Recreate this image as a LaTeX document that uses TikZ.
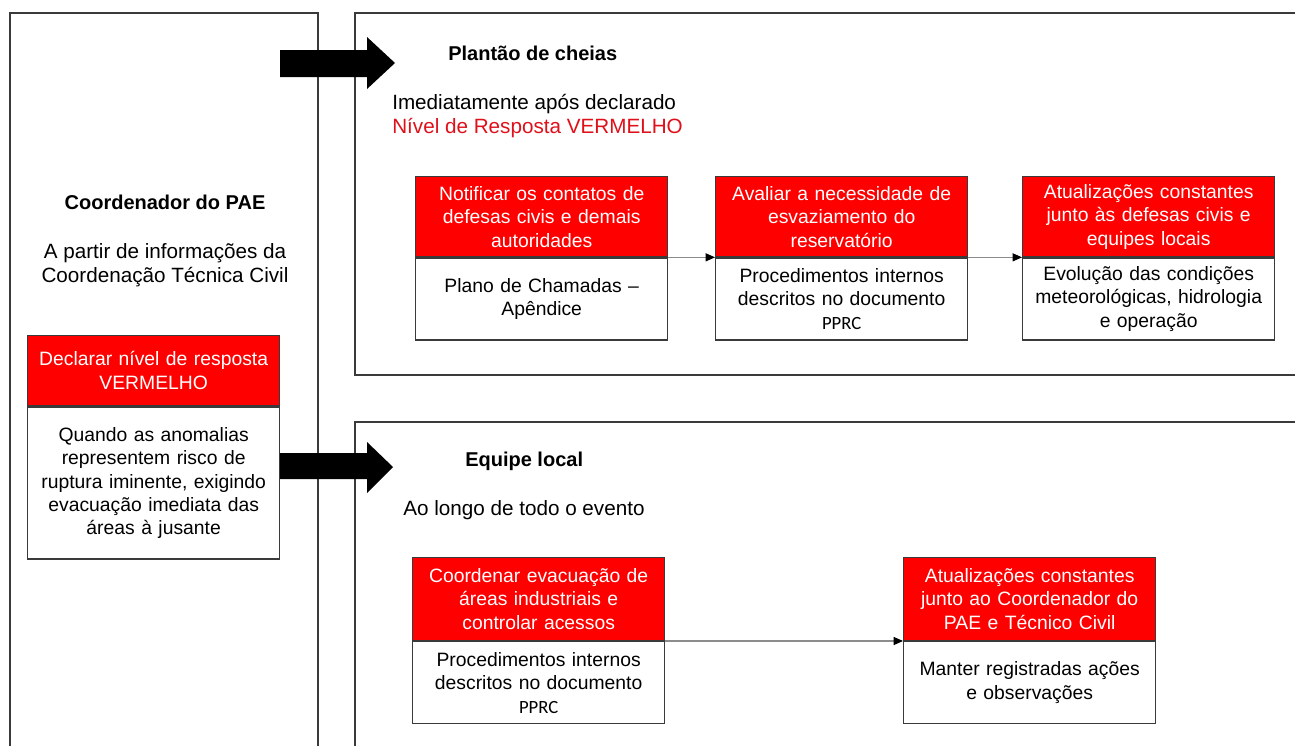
\documentclass[tikz,border=0pt]{standalone}
\usepackage{fontspec}
\setmainfont{Liberation Sans}
\newfontfamily\pprcfont{Carlito}
\usetikzlibrary{arrows.meta}
\definecolor{linec}{HTML}{3A3A3A}
\definecolor{hdrred}{HTML}{FF0000}
\definecolor{txtred}{HTML}{E0101A}
\definecolor{conncol}{HTML}{8C8C8C}
\newcommand{\boxfont}{\fontsize{14.5}{17.6}\selectfont}
\newcommand{\lblfont}{\fontsize{15.5}{17.6}\selectfont}
\newcommand{\ttlfont}{\fontsize{15}{18}\selectfont\bfseries}
\newcommand{\pprc}{{\pprcfont\fontsize{14}{17.6}\selectfont PPRC}}
\begin{document}
\begin{tikzpicture}[x=0.75pt,y=-0.75pt,
  frame/.style={draw=linec,line width=1.1pt},
  hdr/.style={draw=linec,line width=1pt,fill=hdrred,text=white,align=center,
    inner sep=0pt,text width=189pt,minimum height=#1,font=\boxfont,anchor=north west},
  body/.style={draw=linec,line width=1pt,fill=white,text=black,align=center,
    inner sep=0pt,text width=189pt,minimum height=#1,font=\boxfont,anchor=north},
  conn/.style={draw=conncol,line width=0.8pt,-{Triangle[length=7pt,width=6pt,color=black]}},
  blockarrow/.style={fill=black},
  title/.style={font=\ttlfont,inner sep=0pt},
  lbl/.style={font=\lblfont,inner sep=0pt}]
\useasboundingbox (0,0) rectangle (1295,746);
\fill[white] (0,0) rectangle (1295,746);

% frames
\draw[frame] (10,746) -- (10,13) -- (318,13) -- (318,746);
\draw[frame] (1295,13) -- (355,13) -- (355,375) -- (1295,375);
\draw[frame] (1295,422) -- (355,422) -- (355,746);

% block arrows
\fill[blockarrow] (280,50) -- (367,50) -- (367,37) -- (395,63) -- (367,89) -- (367,77) -- (280,77) -- cycle;
\fill[blockarrow] (278,453) -- (367,453) -- (367,442) -- (393,467) -- (367,493) -- (367,479) -- (278,479) -- cycle;

% left column
\node[title] (coord) at (165,202) {Coordenador do PAE};
\node[lbl,align=center] (apartir) at (165,265) {A partir de informações da\\Coordenação Técnica Civil};
\node[hdr=52.5pt] (lh) at (27,335) {Declarar nível de resposta\\VERMELHO};
\node[body=114pt] (lb) at (lh.south) {Quando as anomalias\\representem risco de\\ruptura iminente, exigindo\\evacuação imediata das\\áreas à jusante};

% top section
\node[title,anchor=west] (plantao) at (448,53) {Plantão de cheias};
\node[lbl,align=left,anchor=west] (imed) at (392,116) {Imediatamente após declarado\\\textcolor{txtred}{Nível de Resposta VERMELHO}};

\node[hdr=60pt] (t1h) at (415,176) {Notificar os contatos de\\defesas civis e demais\\autoridades};
\node[body=61.5pt] (t1b) at (t1h.south) {Plano de Chamadas –\\Apêndice};
\node[hdr=60pt] (t2h) at (715,176) {Avaliar a necessidade de\\esvaziamento do\\reservatório};
\node[body=61.5pt] (t2b) at (t2h.south) {Procedimentos internos\\descritos no documento\\\pprc};
\node[hdr=60pt] (t3h) at (1022,176) {Atualizações constantes\\junto às defesas civis e\\equipes locais};
\node[body=61.5pt] (t3b) at (t3h.south) {Evolução das condições\\meteorológicas, hidrologia\\e operação};

\draw[conn] (t1h.south east) -- (t2h.south west);
\draw[conn] (t2h.south east) -- (t3h.south west);

% bottom section
\node[title,anchor=west] (equipe) at (465,461) {Equipe local};
\node[lbl,anchor=west] (aolongo) at (403,510) {Ao longo de todo o evento};

\node[hdr=62pt] (b1h) at (412,557) {Coordenar evacuação de\\áreas industriais e\\controlar acessos};
\node[body=61.5pt] (b1b) at (b1h.south) {Procedimentos internos\\descritos no documento\\\pprc};
\node[hdr=62pt] (b2h) at (903,557) {Atualizações constantes\\junto ao Coordenador do\\PAE e Técnico Civil};
\node[body=61.5pt] (b2b) at (b2h.south) {Manter registradas ações\\e observações};

\draw[conn] (b1h.south east) -- (b2h.south west);
\end{tikzpicture}
\end{document}
